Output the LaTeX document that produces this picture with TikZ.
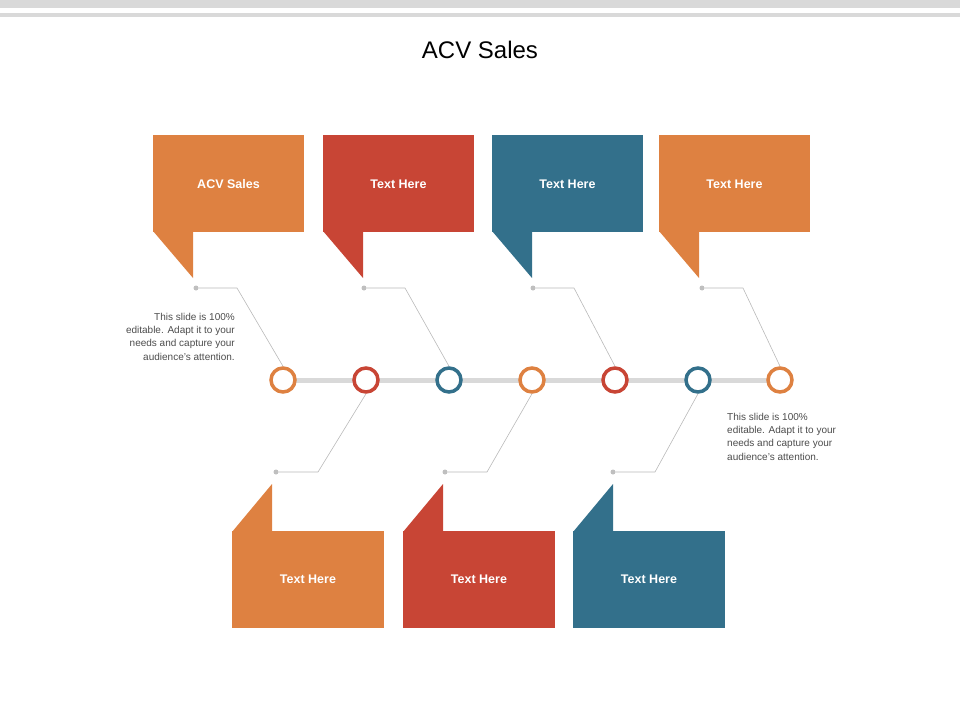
\documentclass[tikz,border=0pt]{standalone}
\usepackage{fontspec}
\setmainfont{Liberation Sans}
\definecolor{cor}{HTML}{DE8141}
\definecolor{cre}{HTML}{C84535}
\definecolor{cbl}{HTML}{33708B}
\definecolor{cgr}{HTML}{D9D9D9}
\tikzset{
 lbl/.style={text=white,font=\bfseries\fontsize{12.5}{15}\selectfont},
 ring/.style={circle,draw=#1,line width=3.5pt,fill=white,minimum size=24pt,inner sep=0pt},
 dotn/.style={circle,fill=gray!50,minimum size=5pt,inner sep=0pt},
 conn/.style={draw=gray!55,line width=0.6pt},
 note/.style={text=black!70,font=\fontsize{10}{13.2}\selectfont,inner sep=0pt}
}
\begin{document}
\begin{tikzpicture}[x=1pt,y=-1pt]
\useasboundingbox (0,0) rectangle (960,720);
\fill[cgr] (0,0) rectangle (960,8);
\fill[cgr] (0,13) rectangle (960,17);
\node (title) at (480,50) {\fontsize{24}{28}\selectfont ACV Sales};
% timeline
\draw[cgr,line width=5pt] (283,380) -- (780,380);
\foreach \n/\x/\c in {1/283/cor,2/366/cre,3/449/cbl,4/532/cor,5/615/cre,6/698/cbl,7/780/cor}
  \node[ring=\c] (r\n) at (\x,380) {};
% top callouts
\foreach \n/\x/\c/\t in {1/153/cor/ACV Sales,2/323/cre/Text Here,3/492/cbl/Text Here,4/659/cor/Text Here}{
  \fill[\c] (\x,135) rectangle (\x+151,232);
  \fill[\c] (\x,231) -- (\x+40,278) -- (\x+40,231) -- cycle;
  \node[lbl] (t\n) at (\x+75.5,184) {\t};
}
\foreach \n/\x/\r in {1/196/1,2/364/3,3/533/5,4/702/7}{
  \node[dotn] (d\n) at (\x,288) {};
  \coordinate (k\n) at (\x+41,288);
  \draw[conn] (d\n) -- (k\n) -- (r\r.north);
}
% bottom callouts
\foreach \n/\x/\c in {5/232/cor,6/403/cre,7/573/cbl}{
  \fill[\c] (\x,531) rectangle (\x+152,628);
  \fill[\c] (\x,532) -- (\x+40,484) -- (\x+40,532) -- cycle;
  \node[lbl] (t\n) at (\x+76,579) {Text Here};
}
\foreach \n/\x/\r in {5/276/2,6/445/4,7/613/6}{
  \node[dotn] (d\n) at (\x,472) {};
  \coordinate (k\n) at (\x+42,472);
  \draw[conn] (r\r.south) -- (k\n) -- (d\n);
}
\node[note,anchor=north east,align=right] (n1) at (235,313) {This slide is 100\%\\editable. Adapt it to your\\needs and capture your\\audience's attention.};
\node[note,anchor=north west,align=left] (n2) at (727,413) {This slide is 100\%\\editable. Adapt it to your\\needs and capture your\\audience's attention.};
\end{tikzpicture}
\end{document}
